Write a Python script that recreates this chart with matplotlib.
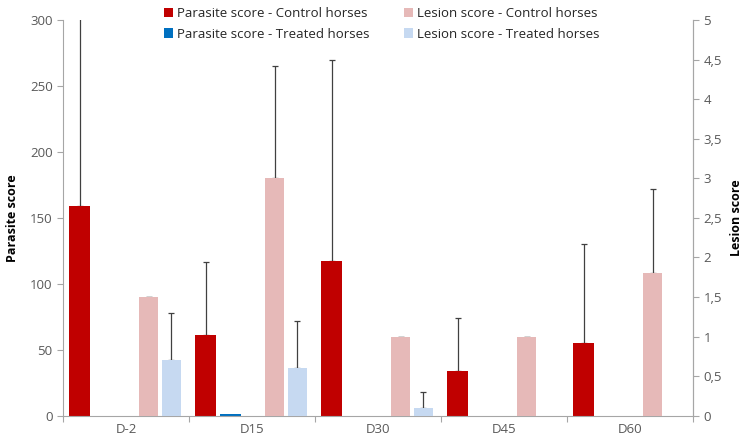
import numpy as np
import matplotlib
matplotlib.use('Agg')
import matplotlib.pyplot as plt
from matplotlib.ticker import FuncFormatter

plt.rcParams['font.family'] = ['Open Sans', 'DejaVu Sans']

# data
days = ['D-2', 'D15', 'D30', 'D45', 'D60']
parasite_control = [159, 61.4, 117.5, 34.1, 55.3]
parasite_control_err = [170, 55, 152.5, 39.7, 74.7]
parasite_treated = [0, 1, 0, 0, 0]
lesion_control = [1.5, 3.0, 1.0, 1.0, 1.8]
lesion_control_err = [0, 1.42, 0, 0, 1.07]
lesion_treated = [0.7, 0.6, 0.1, 0, 0]
lesion_treated_err = [0.6, 0.6, 0.2, np.nan, np.nan]

red = '#C00000'
blue = '#0070C0'
pink = '#E6B9B8'
lblue = '#C6D9F1'
grey = '#595959'
axcol = '#A6A6A6'

x = np.arange(len(days))

fig = plt.figure(figsize=(7.43, 4.41), dpi=100)
ax = fig.add_axes([0.0848, 0.0574, 0.8479, 0.8972])
ax2 = ax.twinx()

ekw = dict(fmt='none', ecolor='#404040', elinewidth=0.9, capsize=2.5, capthick=0.9, zorder=1)

b1 = ax.bar(x - 0.369, parasite_control, 0.17, color=red, zorder=2)
b2 = ax.bar(x - 0.17, parasite_treated, 0.17, color=blue, zorder=2)
ax.errorbar(x - 0.369, parasite_control, yerr=[np.zeros(5), parasite_control_err], **ekw)

b3 = ax2.bar(x + 0.179, lesion_control, 0.155, color=pink, zorder=2)
b4 = ax2.bar(x + 0.361, lesion_treated, 0.155, color=lblue, zorder=2)
ax2.errorbar(x + 0.179, lesion_control, yerr=[np.zeros(5), lesion_control_err], **ekw)
# only the treated bars that have an error bar
m = ~np.isnan(lesion_treated_err)
lt = np.array(lesion_treated)[m]
ax2.errorbar((x + 0.361)[m], lt, yerr=[np.zeros(m.sum()), np.array(lesion_treated_err)[m]], **ekw)

ax.set_xlim(-0.5, len(days) - 0.5)
ax.set_ylim(0, 300)
ax2.set_ylim(0, 5)
ax.set_yticks(np.arange(0, 301, 50))
ax2.set_yticks(np.arange(0, 5.01, 0.5))
ax2.yaxis.set_major_formatter(FuncFormatter(lambda v, p: ('%g' % v).replace('.', ',')))

# category labels in the middle, ticks between categories
ax.set_xticks(np.arange(-0.5, len(days), 1.0))
ax.set_xticklabels([])
ax.set_xticks(x, minor=True)
ax.set_xticklabels(days, minor=True)
ax.tick_params(axis='x', which='major', length=4, color=axcol, direction='out')
ax.tick_params(axis='x', which='minor', length=0, pad=5, labelsize=9.5, labelcolor=grey)
ax.tick_params(axis='y', length=4, color=axcol, labelsize=9.5, labelcolor=grey)
ax2.tick_params(axis='y', length=4, color=axcol, labelsize=9.5, labelcolor=grey)

for a in (ax, ax2):
    a.spines['top'].set_visible(False)
    for s in ('left', 'right', 'bottom'):
        a.spines[s].set_color(axcol)
ax2.spines['left'].set_visible(False)
ax2.spines['bottom'].set_visible(False)

ax.set_ylabel('Parasite score', fontsize=9, fontweight='bold', labelpad=8)
ax2.set_ylabel('Lesion score', fontsize=9, fontweight='bold', labelpad=6)

ax2.set_zorder(ax.get_zorder() + 1)
ax2.patch.set_visible(False)

fig.legend([b1, b2, b3, b4],
           ['Parasite score - Control horses', 'Parasite score - Treated horses',
            'Lesion score - Control horses', 'Lesion score - Treated horses'],
           ncol=2, frameon=False, loc='upper left', bbox_to_anchor=(0.205, 1.01),
           fontsize=9.5, handlelength=0.7, handleheight=0.7, handletextpad=0.3,
           columnspacing=2.6, labelspacing=0.55, labelcolor='#262626')

fig.savefig('out.png', dpi=100)
